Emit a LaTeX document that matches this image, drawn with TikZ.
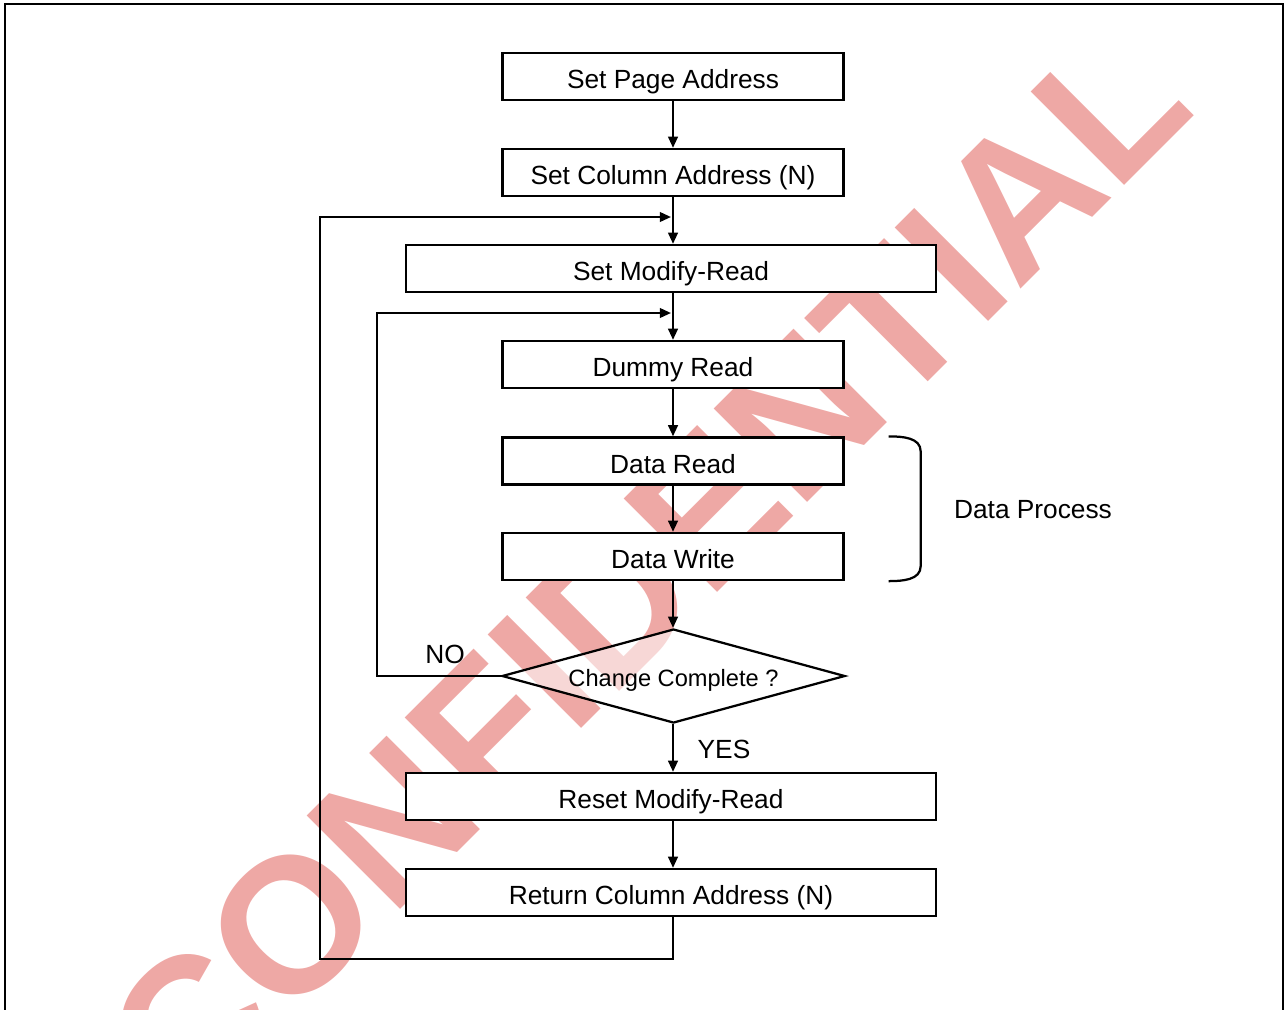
\documentclass[tikz,border=0pt]{standalone}
\usepackage{fontspec}
\setmainfont{Liberation Sans}
\usepackage{tikz}
\usetikzlibrary{arrows.meta,shapes.geometric,calc}

\definecolor{wmpink}{RGB}{238,168,165}

\tikzset{
  flowbox/.style={draw, fill=white, line width=1.6pt, minimum height=1.175cm, inner sep=0pt,
    text height=0.6cm, text depth=0pt, font=\fontsize{18.7}{22}\selectfont},
  narrowbox/.style={flowbox, minimum width=8.525cm},
  widebox/.style={flowbox, minimum width=13.25cm},
  decision/.style={draw, diamond, aspect=3.65, line width=1.6pt, fill=white, fill opacity=0.55, text opacity=1,
    inner sep=0pt, minimum width=8.575cm, minimum height=2.35cm, text height=0.5cm, text depth=0pt,
    font=\fontsize{16.8}{20}\selectfont},
  flowarrow/.style={line width=1.6pt, -{Triangle[length=0.28cm, width=0.24cm]}},
  plaintext/.style={inner sep=0pt, font=\fontsize{18.7}{22}\selectfont}
}

\begin{document}
\begin{tikzpicture}[x=0.025cm, y=-0.025cm]
			\useasboundingbox (0,0) rectangle (1287,1009);
			\clip (0,0) rectangle (1287,1009);
			\draw[line width=1.6pt] (5,4) rectangle (1283,1040);
			% watermark
			\node[rotate=45, anchor=base, inner sep=0pt, text=wmpink,
			  font=\fontsize{136.6}{140}\selectfont\bfseries] (wm) at (693,617) {CONFIDENTIAL};
			% flow
			\node[narrowbox] at (673,76.5) (page){Set Page Address};
			\node[narrowbox] at (673,172.5) (column){Set Column Address (N)};
			\node[widebox] at (671,268.5) (modify){Set Modify-Read};
			\node[narrowbox] at (673,364.5) (dummy){Dummy Read};
			\node[narrowbox] at (673,461) (rd){Data Read};
			\node[narrowbox] at (673,556.5) (wr){Data Write};
			\node[decision] at (673.5,676) (done){Change Complete ?};
			\node[widebox] at (671,796.5) (reset){Reset Modify-Read};
			\node[widebox] at (671,892.5) (ret){Return Column Address (N)};
			\node[plaintext] at (445,654) (no){NO};
			\node[plaintext] at (724,749) (yes){YES};
			\node[plaintext] at (1033,510) (proc){Data Process};
			\coordinate (backtop) at (671,217);
			\coordinate (backmid) at (671,313);
			\draw[flowarrow] (page) -- (column);
			\draw[flowarrow] (column) -- (column |- modify.north);
			\draw[flowarrow] (modify.south -| dummy) -- (dummy);
			\draw[flowarrow] (dummy) -- (rd);
			\draw[flowarrow] (rd) -- (wr);
			\draw[flowarrow] (wr) -- (wr |- done.north);
			\draw[flowarrow] (wr |- done.south) -- (wr |- reset.north);
			\draw[flowarrow] (wr |- reset.south) -- (wr |- ret.north);
			\draw[flowarrow] (wr |- ret.south) -- ++(0,42) -| (320,217) -- (backtop);
			\draw[flowarrow] (done.west) -| (377,313) -- (backmid);
			% brace
			\draw[line width=1.6pt] ($(rd.north east)+(44,0)$) to[out=0,in=90] ($(rd.north east)+(76,15)$)
			  -- ($(wr.south east)+(76,-15)$) to[out=-90,in=0] ($(wr.south east)+(44,0)$);
		\end{tikzpicture}
\end{document}
